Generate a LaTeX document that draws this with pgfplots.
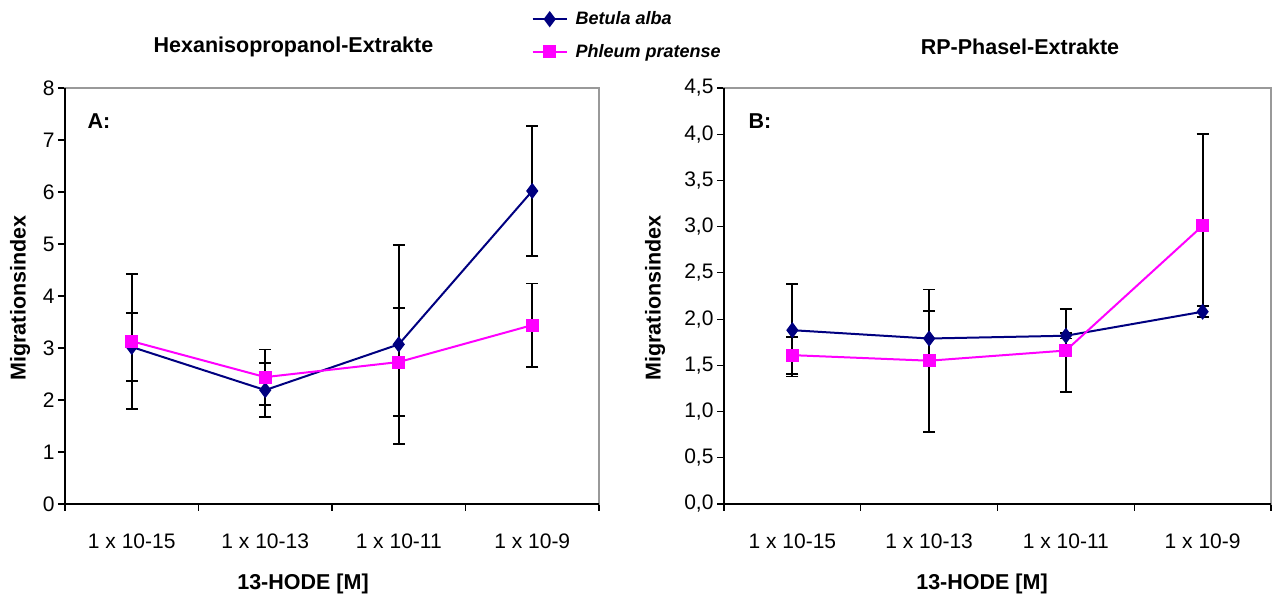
\documentclass[border=0pt]{standalone}
\usepackage{pgfplots}
\usepackage{pgfplotstable}
\pgfplotsset{compat=1.18}
\usepackage{fontspec}
\setmainfont{Liberation Sans}

\definecolor{betula}{RGB}{0,0,128}
\definecolor{phleum}{RGB}{255,0,255}

% panel A: Hexanisopropanol-Extrakte
\pgfplotstableread{
x y e
1 3.02 0.65
2 2.19 0.52
3 3.07 1.91
4 6.02 1.25
}\betA
\pgfplotstableread{
x y e
1 3.13 1.30
2 2.44 0.53
3 2.73 1.04
4 3.44 0.80
}\phlA
% panel B: RP-Phasel-Extrakte
\pgfplotstableread{
x y e
1 1.88 0.50
2 1.79 0.30
3 1.82 0.03
4 2.08 0.06
}\betB
\pgfplotstableread{
x y e
1 1.61 0.20
2 1.55 0.77
3 1.66 0.45
4 3.01 0.99
}\phlB

\pgfplotsset{
    panel/.style={
        scale only axis,
        xmin=0.5, xmax=4.5,
        xtick={0.5,1.5,2.5,3.5,4.5},
        xticklabels={,,,,},
        extra x ticks={1,2,3,4},
        extra x tick labels={1 x 10-15, 1 x 10-13, 1 x 10-11, 1 x 10-9},
        extra x tick style={major tick length=0pt,
            xticklabel style={anchor=center, yshift=-37bp}},
        tick align=outside,
        tick pos=left,
        major tick length=7bp,
        axis line style={gray!80, line width=1.4bp},
        tick style={black, line width=1.2bp},
        ticklabel style={font=\fontsize{21bp}{25bp}\selectfont},
        /pgf/number format/assume math mode=true,
        clip=false,
    },
    err/.style={error bars/.cd, y dir=both, y explicit,
        error mark=|,
        error bar style={black, line width=1.8bp},
        error mark options={black, line width=1.8bp, mark size=6bp}},
    bet/.style={betula, line width=2bp, mark=diamond*, mark size=6.5bp,
        mark options={solid, fill=betula}},
    phl/.style={phleum, line width=2bp, mark=square*, mark size=5.5bp,
        mark options={solid, fill=phleum}},
}

\begin{document}
\begin{tikzpicture}[x=1bp,y=1bp]
\path[use as bounding box] (0,0) rectangle (1273,604);

\begin{axis}[panel,
    at={(65bp,100bp)}, anchor=south west,
    width=534bp, height=416bp,
    ymin=0, ymax=8, ytick={0,1,...,8},
    legend cell align=left,
    legend style={at={(0.868,1.193)}, anchor=north west, draw=none, fill=none,
        font=\bfseries\itshape\fontsize{18bp}{20bp}\selectfont,
        row sep=14bp,
        /tikz/every odd column/.append style={column sep=6bp}},
    legend image code/.code={\draw[mark repeat=2,mark phase=2,#1]
        plot coordinates {(0bp,0bp) (17bp,0bp) (34bp,0bp)};},
]
\addplot[bet, err] table[x=x, y=y, y error=e] {\betA};
\addlegendentry{Betula alba}
\addplot[phl, err] table[x=x, y=y, y error=e] {\phlA};
\addlegendentry{Phleum pratense}
\draw[black, line width=1.4bp] (rel axis cs:0,1) -- (rel axis cs:0,0) -- (rel axis cs:1,0);
\end{axis}

\begin{axis}[panel,
    at={(724bp,100bp)}, anchor=south west,
    width=547bp, height=416bp,
    ymin=0, ymax=4.5, ytick={0,0.5,1,1.5,2,2.5,3,3.5,4,4.5},
    yticklabel style={/pgf/number format/.cd, use comma, fixed, fixed zerofill, precision=1},
]
\addplot[bet, err] table[x=x, y=y, y error=e] {\betB};
\addplot[phl, err] table[x=x, y=y, y error=e] {\phlB};
\draw[black, line width=1.4bp] (rel axis cs:0,1) -- (rel axis cs:0,0) -- (rel axis cs:1,0);
\end{axis}

\begin{scope}[font=\bfseries\fontsize{21.5bp}{25bp}\selectfont]
\node at (293.5,557) {Hexanisopropanol-Extrakte};
\node at (1020,557) {RP-Phasel-Extrakte};
\node at (99,483) {A:};
\node at (760,483) {B:};
\node[rotate=90] at (20,306) {Migrationsindex};
\node[rotate=90] at (655,306) {Migrationsindex};
\node at (303,20) {13-HODE [M]};
\node at (982,20) {13-HODE [M]};
\end{scope}
\end{tikzpicture}
\end{document}
